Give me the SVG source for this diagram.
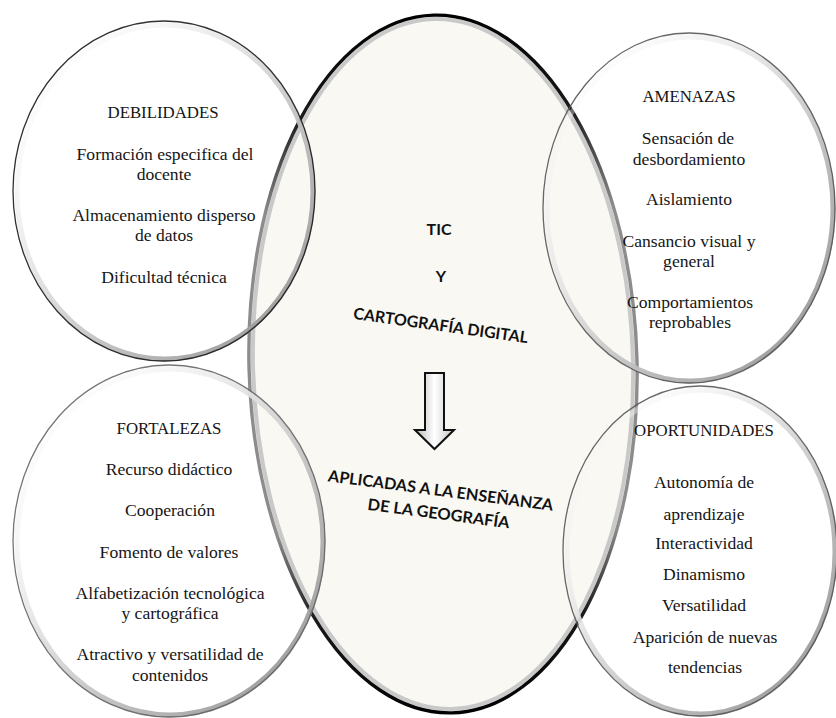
<svg xmlns="http://www.w3.org/2000/svg" width="836" height="718" viewBox="0 0 836 718">
  <defs>
    <!-- vertical shading for the big central ellipse outline -->
    <linearGradient id="coreEdge" gradientUnits="userSpaceOnUse" x1="0" y1="15" x2="0" y2="714">
      <stop offset="0" stop-color="#000"/>
      <stop offset="0.14" stop-color="#1a1a1a"/>
      <stop offset="0.28" stop-color="#8c8c8c"/>
      <stop offset="0.74" stop-color="#8c8c8c"/>
      <stop offset="0.86" stop-color="#1a1a1a"/>
      <stop offset="1" stop-color="#000"/>
    </linearGradient>
    <!-- bevel band for the four SWOT circles: light top-left, grey bottom-right -->
    <linearGradient id="rimShade" x1="0" y1="0" x2="1" y2="1">
      <stop offset="0" stop-color="#ffffff" stop-opacity="0"/>
      <stop offset="0.4" stop-color="#e4e4e4"/>
      <stop offset="0.7" stop-color="#b4b4b4"/>
      <stop offset="1" stop-color="#8a8a8a"/>
    </linearGradient>
    <linearGradient id="arrowFill" x1="0" y1="0" x2="1" y2="0">
      <stop offset="0" stop-color="#b8b8b8"/>
      <stop offset="0.5" stop-color="#ffffff"/>
      <stop offset="1" stop-color="#c4c4c4"/>
    </linearGradient>
    <style>
      .core-fill { fill: #faf8f3; stroke: none; }
      .core-band { fill: none; stroke: #c9c9c9; stroke-width: 4; }
      .core-edge { fill: none; stroke: url(#coreEdge); stroke-width: 3.4; }
      .band { fill: none; stroke: url(#rimShade); stroke-width: 5; opacity: 0.95; }
      .rim { fill: none; stroke-width: 1.3; stroke-opacity: 0.9; }
      .h { font-size: 16.8px; fill: #151515; text-anchor: middle; }
      .t { font-size: 17.6px; fill: #151515; text-anchor: middle; }
      .c { font-weight: 700; font-size: 16px; fill: #111; text-anchor: middle; }
      .arrow { fill: url(#arrowFill); stroke: #111; stroke-width: 2; stroke-linejoin: miter; }
    </style>
  </defs>

  <rect width="836" height="718" fill="#ffffff"/>

  <!-- central theme -->
  <g id="node-centro" font-family="Lato, 'Open Sans', sans-serif">
    <g transform="rotate(-1.5 443 364)">
      <ellipse class="core-fill" cx="443" cy="364" rx="194" ry="349"/>
      <ellipse class="core-band" cx="443" cy="364" rx="190" ry="345"/>
      <ellipse class="core-edge" cx="443" cy="364" rx="194" ry="349"/>
    </g>
    <text class="c" x="439" y="235">TIC</text>
    <text class="c" x="441" y="282">Y</text>
    <text class="c" x="440" y="331" transform="rotate(8 440 331)" textLength="176" lengthAdjust="spacingAndGlyphs">CARTOGRAFÍA DIGITAL</text>
    <text class="c" x="440" y="496" transform="rotate(7.5 440 496)" textLength="227" lengthAdjust="spacingAndGlyphs">APLICADAS A LA ENSEÑANZA</text>
    <text class="c" x="438" y="519" transform="rotate(7.5 438 519)" textLength="143" lengthAdjust="spacingAndGlyphs">DE LA GEOGRAFÍA</text>
  </g>

  <!-- weaknesses -->
  <g id="node-debilidades" font-family="'Liberation Serif', 'Times New Roman', serif">
    <ellipse class="band" cx="165" cy="192" rx="148" ry="167"/>
    <ellipse class="rim" cx="164" cy="191" rx="151" ry="170" stroke="#1a1a1a"/>
    <text class="h" x="163" y="118">DEBILIDADES</text>
    <text class="t" x="165" y="160">Formación especifica del</text>
    <text class="t" x="164" y="180">docente</text>
    <text class="t" x="164" y="221">Almacenamiento disperso</text>
    <text class="t" x="164" y="241">de datos</text>
    <text class="t" x="164" y="283">Dificultad técnica</text>
  </g>

  <!-- threats -->
  <g id="node-amenazas" font-family="'Liberation Serif', 'Times New Roman', serif">
    <ellipse class="band" cx="690" cy="209" rx="143" ry="172"/>
    <ellipse class="rim" cx="689" cy="208" rx="146" ry="175" stroke="#555"/>
    <text class="h" x="689" y="102">AMENAZAS</text>
    <text class="t" x="688" y="144">Sensación de</text>
    <text class="t" x="689" y="165">desbordamiento</text>
    <text class="t" x="689" y="205">Aislamiento</text>
    <text class="t" x="689" y="247">Cansancio visual y</text>
    <text class="t" x="689" y="267">general</text>
    <text class="t" x="690" y="308">Comportamientos</text>
    <text class="t" x="690" y="328">reprobables</text>
  </g>

  <!-- strengths -->
  <g id="node-fortalezas" font-family="'Liberation Serif', 'Times New Roman', serif">
    <ellipse class="band" cx="170" cy="542" rx="153" ry="173"/>
    <ellipse class="rim" cx="169" cy="541" rx="156" ry="176" stroke="#666"/>
    <text class="h" x="169" y="434">FORTALEZAS</text>
    <text class="t" x="169" y="475">Recurso didáctico</text>
    <text class="t" x="170" y="516">Cooperación</text>
    <text class="t" x="169" y="558">Fomento de valores</text>
    <text class="t" x="170" y="599">Alfabetización tecnológica</text>
    <text class="t" x="170" y="619">y cartográfica</text>
    <text class="t" x="170" y="660">Atractivo y versatilidad de</text>
    <text class="t" x="170" y="681">contenidos</text>
  </g>

  <!-- opportunities -->
  <g id="node-oportunidades" font-family="'Liberation Serif', 'Times New Roman', serif">
    <ellipse class="band" cx="701" cy="552" rx="134" ry="162"/>
    <ellipse class="rim" cx="700" cy="551" rx="137" ry="165" stroke="#555"/>
    <text class="h" x="704" y="436">OPORTUNIDADES</text>
    <text class="t" x="704" y="488">Autonomía de</text>
    <text class="t" x="704" y="520">aprendizaje</text>
    <text class="t" x="704" y="549">Interactividad</text>
    <text class="t" x="704" y="580">Dinamismo</text>
    <text class="t" x="704" y="611">Versatilidad</text>
    <text class="t" x="705" y="643">Aparición de nuevas</text>
    <text class="t" x="705" y="673">tendencias</text>
  </g>

  <!-- block arrow between the two central statements -->
  <g id="connectors">
    <path class="arrow" d="M425,373 H444 V430 H454 L434.5,449 L415,430 H425 Z"/>
  </g>
</svg>
